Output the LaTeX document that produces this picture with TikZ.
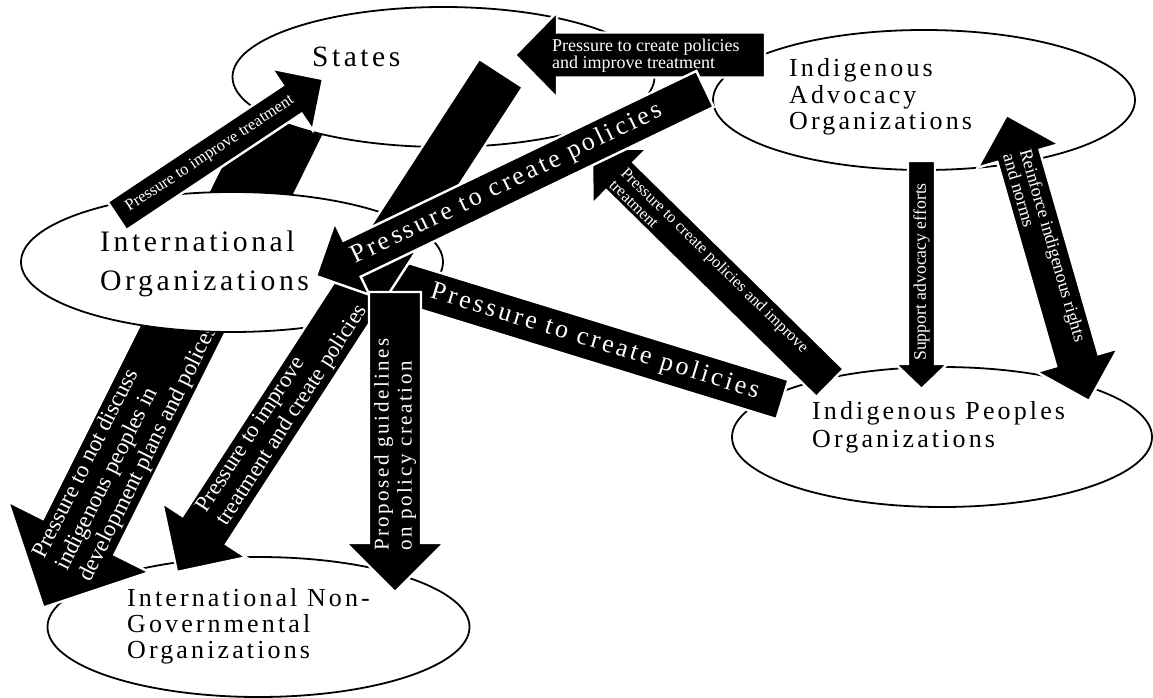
\documentclass[tikz,border=0pt]{standalone}
\usepackage{fontspec}
\setmainfont{Liberation Serif}
\newfontfamily\spaced[LetterSpace=12]{Liberation Serif}
\usetikzlibrary{calc,shapes.geometric}

% block arrow: #1 tail, #2 tip, #3 shaft width, #4 head width, #5 head length
\newcommand\blockarr[5]{%
  \coordinate (bk-n) at ($(#2)!#5!(#1)$);
  \filldraw[barrow] ($(#1)!#3/2!90:(#2)$) -- ($(bk-n)!#3/2!90:(#2)$) -- ($(bk-n)!#4/2!90:(#2)$) -- (#2)
    -- ($(bk-n)!#4/2!-90:(#2)$) -- ($(bk-n)!#3/2!-90:(#2)$) -- ($(#1)!#3/2!-90:(#2)$) -- cycle;
}
% double block arrow between #1 and #2
\newcommand\dblarr[5]{%
  \coordinate (bk-a) at ($(#1)!#5!(#2)$);
  \coordinate (bk-b) at ($(#2)!#5!(#1)$);
  \filldraw[barrow] (#1) -- ($(bk-a)!#4/2!90:(#2)$) -- ($(bk-a)!#3/2!90:(#2)$) -- ($(bk-b)!#3/2!-90:(#1)$)
    -- ($(bk-b)!#4/2!-90:(#1)$) -- (#2) -- ($(bk-b)!#4/2!90:(#1)$) -- ($(bk-b)!#3/2!90:(#1)$)
    -- ($(bk-a)!#3/2!-90:(#2)$) -- ($(bk-a)!#4/2!-90:(#2)$) -- cycle;
}

\begin{document}
\begin{tikzpicture}[x=1pt,y=-1pt,
  ell/.style={ellipse, draw=black, line width=1.8pt, fill=white, minimum width=422pt, minimum height=140pt, inner sep=0pt},
  barrow/.style={fill=black, draw=white, line width=2.4pt, line join=miter},
  etext/.style={text=black, inner sep=0pt, align=left},
  atext/.style={text=white, inner sep=0pt, align=left}]
\useasboundingbox[fill=white] (0,0) rectangle (1153,698);

% hidden arrow piece between States and IOs
\filldraw[barrow] (248,112) -- (335,112) -- (289,205) -- (202,205) -- cycle;

\node[ell] (st) at (443.5,77) {};
\node[ell] (ingo) at (258.5,627) {};

% Pressure to not discuss (IO -> INGO), behind IO ellipse
\coordinate (a11-t) at (204,286); \coordinate (a11-h) at (43.4,607.5);
\blockarr{a11-t}{a11-h}{80pt}{158pt}{79pt}
\node[atext, font=\fontsize{23}{25.5}\selectfont, rotate=63.4, anchor=west] (a11-l) at (62.6,569)
  {Pressure to not discuss\\indigenous peoples in\\development plans and polices};

\node[ell] (io) at (232,262) {};
\node[ell] (iao) at (924,100) {};
\node[ell, minimum width=420pt] (ipo) at (942,437) {};

% labels (anchor base = baseline of the last line)
\node[etext, font=\spaced\fontsize{29.5}{35}\selectfont, anchor=base west] (st-l) at (312,67) {States};
\node[etext, font=\spaced\fontsize{29.7}{39}\selectfont, anchor=base west] (io-l) at (100,290) {International\\Organizations};
\node[etext, font=\spaced\fontsize{26}{26.5}\selectfont, anchor=base west] (iao-l) at (789,130) {Indigenous\\Advocacy\\Organizations};
\node[etext, font=\spaced\fontsize{26}{28}\selectfont, anchor=base west] (ipo-l) at (812,447) {Indigenous Peoples\\Organizations};
\node[etext, font=\spaced\fontsize{26}{26}\selectfont, anchor=base west] (ingo-l) at (127,658) {International Non-\\Governmental\\Organizations};

% IO -> States
\coordinate (a1-t) at (117,216); \coordinate (a1-h) at (323,79);
\blockarr{a1-t}{a1-h}{34pt}{74pt}{37pt}
\node[atext, font=\fontsize{16.5}{18}\selectfont, rotate=33.6] (a1-l) at (210,154) {Pressure to improve treatment};

% IPO -> IO
\coordinate (a6-t) at (782.5,399.5); \coordinate (a6-h) at (356.1,268.4);
\blockarr{a6-t}{a6-h}{41pt}{82pt}{41pt}
\node[atext, font=\spaced\fontsize{26}{28}\selectfont, rotate=-17.1] (a6-l) at (595,342) {Pressure to create policies};

% States -> INGO
\coordinate (p3-t) at (501,73); \coordinate (p3-h) at (177,572);
\blockarr{p3-t}{p3-h}{52pt}{100pt}{50pt}
\node[atext, font=\fontsize{22.5}{24}\selectfont, rotate=57, anchor=west] (p3-l) at (212.4,517.5)
  {Pressure to improve\\treatment and create policies};

% IAO -> States
\coordinate (a5-t) at (765,55); \coordinate (a5-h) at (515,55);
\blockarr{a5-t}{a5-h}{45pt}{86pt}{42pt}
\node[atext, font=\fontsize{18}{16.7}\selectfont, anchor=west] (a5-l) at (552,56)
  {Pressure to create policies\\and improve treatment};

% IPO -> IAO
\coordinate (a8-t) at (830,383); \coordinate (a8-h) at (592,149);
\blockarr{a8-t}{a8-h}{39pt}{78pt}{39pt}
\node[atext, font=\fontsize{16.3}{16.5}\selectfont, rotate=-44.5, anchor=west] (a8-l) at (618,176)
  {Pressure to create policies and improve\\treatment};

% IAO -> IO
\coordinate (a4-t) at (705,89); \coordinate (a4-h) at (316,276);
\blockarr{a4-t}{a4-h}{40pt}{80pt}{40pt}
\node[atext, font=\spaced\fontsize{26}{28}\selectfont, rotate=25.7] (a4-l) at (507,184) {Pressure to create policies};

% IO -> INGO
\coordinate (a7-t) at (395,292); \coordinate (a7-h) at (395,592);
\blockarr{a7-t}{a7-h}{52pt}{98pt}{49pt}
\node[atext, font=\spaced\fontsize{21}{23}\selectfont, rotate=90, anchor=west] (a7-l) at (395,551)
  {Proposed guidelines\\on policy creation};

% IAO -> IPO
\coordinate (a9-t) at (921.5,161); \coordinate (a9-h) at (921.5,389);
\blockarr{a9-t}{a9-h}{27pt}{52pt}{25pt}
\node[atext, font=\fontsize{17.7}{19}\selectfont, rotate=90, anchor=west] (a9-l) at (921.5,361) {Support advocacy efforts};

% IAO <-> IPO
\coordinate (a10-a) at (1006.7,115); \coordinate (a10-b) at (1089,401);
\dblarr{a10-a}{a10-b}{44pt}{85pt}{42.5pt}
\node[atext, font=\fontsize{18}{17.3}\selectfont, rotate=-73.9, anchor=west] (a10-l) at (1017.2,151.5)
  {Reinforce indigenous rights\\and norms};
\end{tikzpicture}
\end{document}
